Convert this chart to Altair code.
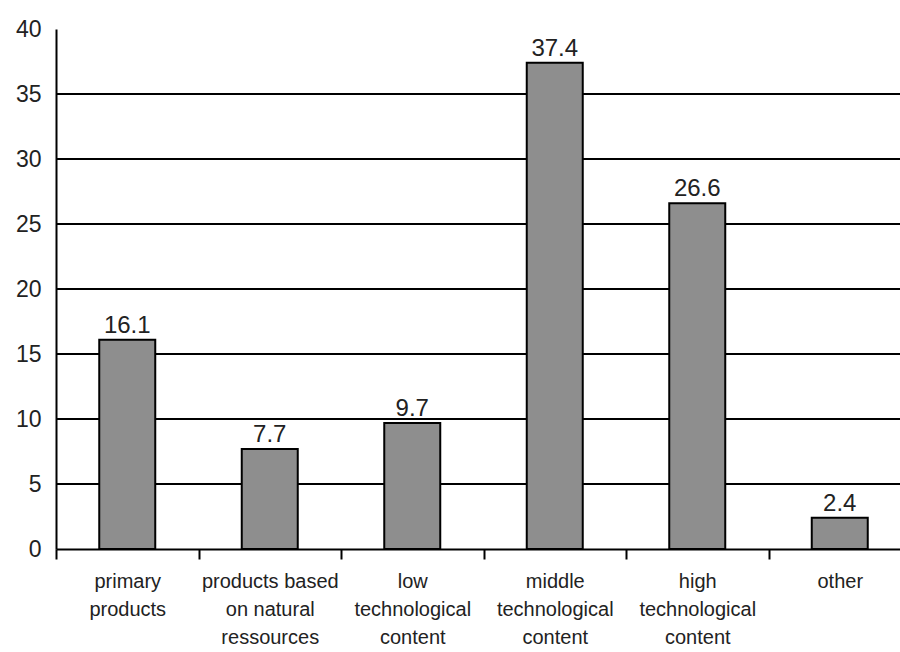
import altair as alt
import pandas as pd

categories = [
    "primary\nproducts",
    "products based\non natural\nressources",
    "low\ntechnological\ncontent",
    "middle\ntechnological\ncontent",
    "high\ntechnological\ncontent",
    "other",
]
values = [16.1, 7.7, 9.7, 37.4, 26.6, 2.4]
grid_values = [5, 10, 15, 20, 25, 30, 35]
y_ticks = [0, 5, 10, 15, 20, 25, 30, 35, 40]

df = pd.DataFrame({"cat": categories, "val": values, "lab": [f"{v:.1f}" for v in values]})
gdf = pd.DataFrame({"g": grid_values})

FONT = "Liberation Sans"
W, H = 844, 520

xscale = alt.Scale(domain=categories, range=[0, 855], paddingInner=0, paddingOuter=0)
yscale = alt.Scale(domain=[0, 40], nice=False)

yaxis = alt.Axis(
    title=None,
    values=y_ticks,
    grid=False,
    ticks=False,
    labelFont=FONT,
    labelFontSize=23,
    labelColor="#222",
    labelPadding=15,
    domainColor="black",
    domainWidth=2,
)

xaxis = alt.Axis(
    title=None,
    labelAngle=0,
    labelExpr="datum.value ? split(datum.value, '\\n') : ''",
    labelFont=FONT,
    labelFontSize=20,
    labelColor="#222",
    labelLineHeight=28,
    labelBaseline="top",
    labelPadding=12,
    tickBand="extent",
    tickSize=10,
    tickWidth=2,
    tickColor="black",
    domainColor="black",
    domainWidth=2,
    grid=False,
)

grid = alt.Chart(gdf).mark_rule(color="black", strokeWidth=2).encode(
    y=alt.Y("g:Q", scale=yscale, axis=yaxis),
    x=alt.value(0),
    x2=alt.value(W),
)

bars = alt.Chart(df).mark_bar(fill="#8e8e8e", stroke="black", strokeWidth=2, width=56).encode(
    x=alt.X("cat:N", scale=xscale, sort=categories, axis=xaxis),
    y=alt.Y("val:Q", scale=yscale, axis=yaxis),
)

text = alt.Chart(df).mark_text(
    font=FONT, fontSize=24, color="#222", baseline="bottom", dy=-2
).encode(
    x=alt.X("cat:N", scale=xscale, sort=categories, axis=xaxis),
    y=alt.Y("val:Q", scale=yscale, axis=yaxis),
    text="lab:N",
)

chart = (
    alt.layer(grid, bars, text)
    .properties(
        width=W,
        height=H,
        autosize=alt.AutoSizeParams(type="none"),
        padding={"left": 56, "top": 29, "right": 0, "bottom": 103},
        background="white",
    )
    .configure_view(stroke=None)
)

chart.save("out.html", embed_options={"renderer": "svg", "actions": False})
